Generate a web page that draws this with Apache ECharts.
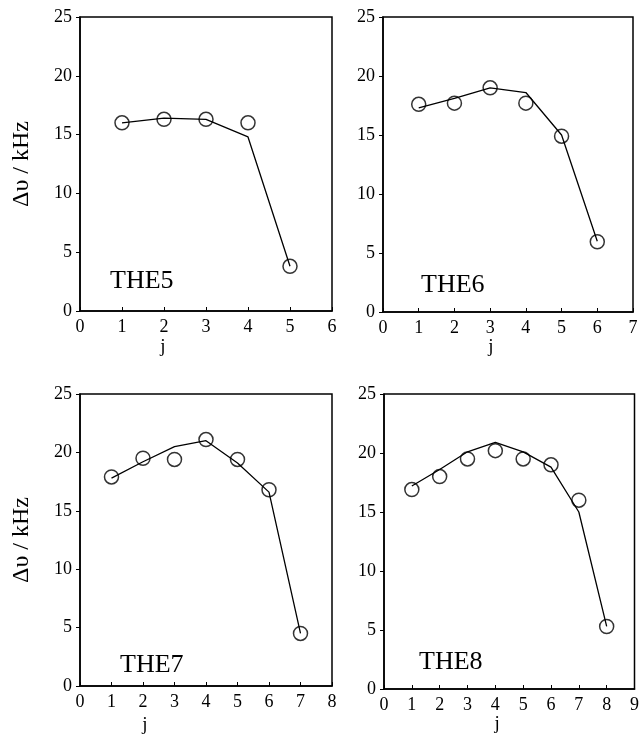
<!DOCTYPE html>
<html>
<head>
<meta charset="utf-8">
<title>THE5-THE8</title>
<script src="https://cdn.jsdelivr.net/npm/echarts@6/dist/echarts.min.js"></script>
<style>
    html, body { margin: 0; padding: 0; background: #fff; }
    #main { width: 642px; height: 736px; }
</style>
</head>
<body>
<div id="main"></div>
<script>
// 数据
var j5 = [1, 2, 3, 4, 5];
var obs5 = [16.0, 16.3, 16.3, 16.0, 3.8];
var fit5 = [16.0, 16.4, 16.3, 14.8, 3.8];

var j6 = [1, 2, 3, 4, 5, 6];
var obs6 = [17.6, 17.7, 19.0, 17.7, 14.9, 5.95];
var fit6 = [17.3, 18.1, 19.0, 18.6, 15.0, 6.0];

var j7 = [1, 2, 3, 4, 5, 6, 7];
var obs7 = [17.9, 19.5, 19.4, 21.1, 19.4, 16.8, 4.5];
var fit7 = [17.8, 19.2, 20.5, 21.0, 19.1, 16.6, 4.5];

var j8 = [1, 2, 3, 4, 5, 6, 7, 8];
var obs8 = [16.9, 18.0, 19.5, 20.2, 19.5, 19.0, 16.0, 5.3];
var fit8 = [17.2, 18.6, 20.1, 20.9, 20.1, 18.8, 15.0, 5.3];

var yTicks = [0, 5, 10, 15, 20, 25];
var panelNames = ["THE5", "THE6", "THE7", "THE8"];
var yName = "\u0394\u03c5 / kHz";

var font = "Liberation Serif";

function pairs(xs, ys) {
    return xs.map(function (x, i) { return [x, ys[i]]; });
}

// 四个面板的位置
var grids = [
    { left: 80, top: 17, width: 252, height: 294 },
    { left: 383, top: 17, width: 250, height: 295 },
    { left: 80, top: 394, width: 252, height: 294 },
    { left: 384, top: 394, width: 252, height: 295 }
];
var xMax = [6, 7, 8, 9];
var jGap = [27, 26, 30, 26];
var jShift = [86, 34, 122, 24]; //j 标签往左偏
var titlePos = [[110, 268], [421, 272], [120, 652], [419, 649]];
var panels = [[j5, obs5, fit5], [j6, obs6, fit6], [j7, obs7, fit7], [j8, obs8, fit8]];

var option = {
    backgroundColor: "#fff",
    animation: false,
    title: [],
    grid: [],
    xAxis: [],
    yAxis: [],
    series: []
};

grids.forEach(function (g, i) {
    option.grid.push({
        left: g.left, top: g.top, width: g.width, height: g.height,
        show: true,
        borderColor: "#000",
        borderWidth: 1.5,
        backgroundColor: "transparent"
    });
    option.title.push({
        text: panelNames[i],
        left: titlePos[i][0],
        top: titlePos[i][1],
        padding: 0,
        textStyle: { fontFamily: font, fontSize: 26, fontWeight: "normal", color: "#000" }
    });
    option.xAxis.push({
        gridIndex: i,
        type: "value",
        min: 0,
        max: xMax[i],
        interval: 1,
        name: "j",
        nameLocation: "middle",
        nameGap: jGap[i],
        nameTextStyle: {
            fontFamily: font, fontSize: 19, color: "#000",
            padding: [0, jShift[i], 0, 0]
        },
        axisLine: { onZero: false, lineStyle: { color: "#000", width: 1.5 } },
        axisTick: { inside: true, length: 4, lineStyle: { color: "#000" } },
        axisLabel: { fontFamily: font, fontSize: 18, color: "#000", margin: 7 },
        splitLine: { show: false }
    });
    option.yAxis.push({
        gridIndex: i,
        type: "value",
        min: yTicks[0],
        max: yTicks[yTicks.length - 1],
        interval: 5,
        name: i % 2 === 0 ? yName : "",
        nameLocation: "middle",
        nameGap: 46,
        nameTextStyle: { fontFamily: font, fontSize: 24, color: "#000" },
        axisLine: { onZero: false, lineStyle: { color: "#000", width: 1.5 } },
        axisTick: { inside: false, length: 4, lineStyle: { color: "#000" } },
        axisLabel: { fontFamily: font, fontSize: 18, color: "#000", margin: 8 },
        splitLine: { show: false }
    });
    var p = panels[i];
    //拟合曲线
    option.series.push({
        type: "line",
        xAxisIndex: i,
        yAxisIndex: i,
        data: pairs(p[0], p[2]),
        showSymbol: false,
        symbol: "none",
        lineStyle: { color: "#000", width: 1.3 },
        z: 2
    });
    //实验点
    option.series.push({
        type: "scatter",
        xAxisIndex: i,
        yAxisIndex: i,
        data: pairs(p[0], p[1]),
        symbol: "circle",
        symbolSize: 14,
        itemStyle: { color: "rgba(255,255,255,0)", borderColor: "#000", borderWidth: 1.5 },
        z: 3
    });
});

var chart = echarts.init(document.getElementById("main"));
chart.setOption(option);
</script>
</body>
</html>
